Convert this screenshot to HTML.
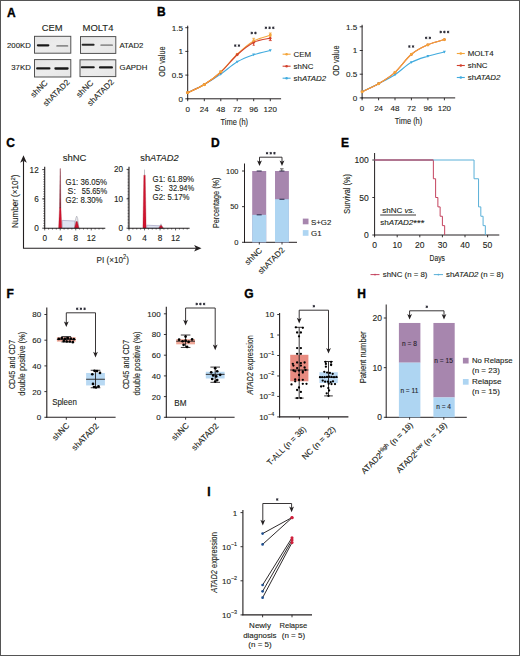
<!DOCTYPE html>
<html><head><meta charset="utf-8"><style>
html,body{margin:0;padding:0;background:#fff;}
#f{position:relative;width:520px;height:656px;overflow:hidden;background:#fff;}
svg{position:absolute;left:0;top:0;font-family:"Liberation Sans", sans-serif;}
text{stroke:#231f20;stroke-width:0.12px;}
</style></head><body><div id="f">
<svg width="520" height="656" viewBox="0 0 520 656">
<defs><linearGradient id="bg" x1="0" y1="0" x2="1" y2="1"><stop offset="0" stop-color="#e4e4e4"/><stop offset="0.5" stop-color="#ececec"/><stop offset="1" stop-color="#e6e6e6"/></linearGradient><filter id="bl" x="-20%" y="-100%" width="140%" height="300%"><feGaussianBlur stdDeviation="0.45"/></filter></defs>
<rect x="0" y="0" width="520" height="656" fill="#fff"/>
<text x="6.9" y="16.6" font-size="12" fill="#000" font-weight="bold" style="stroke:#000;stroke-width:0.35px">A</text>
<text x="52.2" y="30.5" font-size="8.9" fill="#231f20" text-anchor="middle" textLength="20.8" lengthAdjust="spacingAndGlyphs">CEM</text>
<text x="98.0" y="30.5" font-size="8.9" fill="#231f20" text-anchor="middle" textLength="30.8" lengthAdjust="spacingAndGlyphs">MOLT4</text>
<rect x="34.5" y="36.3" width="36.3" height="16.900000000000006" fill="url(#bg)" stroke="#4a4a4a" stroke-width="0.95"/>
<rect x="36.8" y="44.15" width="12.600000000000001" height="2.3" rx="1.15" fill="#111" opacity="0.95" filter="url(#bl)"/>
<rect x="56.2" y="44.949999999999996" width="12.099999999999994" height="1.9" rx="0.95" fill="#111" opacity="0.42" filter="url(#bl)"/>
<rect x="34.5" y="59.6" width="36.3" height="17.4" fill="url(#bg)" stroke="#4a4a4a" stroke-width="0.95"/>
<rect x="36.1" y="67.30000000000001" width="14.399999999999999" height="2.2" rx="1.1" fill="#111" opacity="0.95" filter="url(#bl)"/>
<rect x="54.3" y="67.35" width="14.400000000000006" height="2.3" rx="1.15" fill="#111" opacity="0.95" filter="url(#bl)"/>
<rect x="80.5" y="36.6" width="35.3" height="16.799999999999997" fill="url(#bg)" stroke="#4a4a4a" stroke-width="0.95"/>
<rect x="81.6" y="43.8" width="13.0" height="2.0" rx="1.0" fill="#111" opacity="0.88" filter="url(#bl)"/>
<rect x="100.3" y="44.300000000000004" width="12.700000000000003" height="1.8" rx="0.9" fill="#111" opacity="0.4" filter="url(#bl)"/>
<rect x="80.0" y="59.8" width="35.8" height="16.799999999999997" fill="url(#bg)" stroke="#4a4a4a" stroke-width="0.95"/>
<rect x="80.8" y="66.2" width="14.0" height="2.0" rx="1.0" fill="#111" opacity="0.95" filter="url(#bl)"/>
<rect x="98.9" y="66.30000000000001" width="14.099999999999994" height="2.2" rx="1.1" fill="#111" opacity="0.95" filter="url(#bl)"/>
<text x="30.8" y="47.6" font-size="7.8" fill="#231f20" text-anchor="end">200KD</text>
<text x="30.8" y="70.3" font-size="7.8" fill="#231f20" text-anchor="end">37KD</text>
<text x="119.4" y="47.6" font-size="7.8" fill="#231f20">ATAD2</text>
<text x="119.6" y="70.3" font-size="7.8" fill="#231f20">GAPDH</text>
<text transform="translate(48.3,83.5) rotate(-45)" font-size="8.2" fill="#231f20" text-anchor="end">shNC</text>
<text transform="translate(70.2,82.8) rotate(-45)" font-size="8.2" fill="#231f20" text-anchor="end">shATAD2</text>
<text transform="translate(93.9,83.5) rotate(-45)" font-size="8.2" fill="#231f20" text-anchor="end">shNC</text>
<text transform="translate(114.5,82.5) rotate(-45)" font-size="8.2" fill="#231f20" text-anchor="end">shATAD2</text>
<text x="156.9" y="16.4" font-size="12" fill="#000" font-weight="bold" style="stroke:#000;stroke-width:0.35px">B</text>
<line x1="187.7" y1="25.700000000000003" x2="187.7" y2="99.3" stroke="#231f20" stroke-width="1" />
<line x1="187.2" y1="98.8" x2="281.1" y2="98.8" stroke="#231f20" stroke-width="1" />
<line x1="185.29999999999998" y1="98.8" x2="188.29999999999998" y2="98.8" stroke="#231f20" stroke-width="0.9" />
<text x="182.89999999999998" y="101.7" font-size="8.1" fill="#231f20" text-anchor="end">0</text>
<line x1="185.29999999999998" y1="75.1" x2="188.29999999999998" y2="75.1" stroke="#231f20" stroke-width="0.9" />
<text x="182.89999999999998" y="78.0" font-size="8.1" fill="#231f20" text-anchor="end">0.5</text>
<line x1="185.29999999999998" y1="51.4" x2="188.29999999999998" y2="51.4" stroke="#231f20" stroke-width="0.9" />
<text x="182.89999999999998" y="54.3" font-size="8.1" fill="#231f20" text-anchor="end">1</text>
<line x1="185.29999999999998" y1="27.700000000000003" x2="188.29999999999998" y2="27.700000000000003" stroke="#231f20" stroke-width="0.9" />
<text x="182.89999999999998" y="30.6" font-size="8.1" fill="#231f20" text-anchor="end">1.5</text>
<line x1="187.7" y1="98.8" x2="187.7" y2="101.2" stroke="#231f20" stroke-width="0.9" />
<text x="187.7" y="111.8" font-size="8.0" fill="#231f20" text-anchor="middle">0</text>
<line x1="204.3" y1="98.8" x2="204.3" y2="101.2" stroke="#231f20" stroke-width="0.9" />
<text x="204.3" y="111.8" font-size="8.0" fill="#231f20" text-anchor="middle">24</text>
<line x1="220.8" y1="98.8" x2="220.8" y2="101.2" stroke="#231f20" stroke-width="0.9" />
<text x="220.8" y="111.8" font-size="8.0" fill="#231f20" text-anchor="middle">48</text>
<line x1="237.2" y1="98.8" x2="237.2" y2="101.2" stroke="#231f20" stroke-width="0.9" />
<text x="237.2" y="111.8" font-size="8.0" fill="#231f20" text-anchor="middle">72</text>
<line x1="253.7" y1="98.8" x2="253.7" y2="101.2" stroke="#231f20" stroke-width="0.9" />
<text x="253.7" y="111.8" font-size="8.0" fill="#231f20" text-anchor="middle">96</text>
<line x1="270.3" y1="98.8" x2="270.3" y2="101.2" stroke="#231f20" stroke-width="0.9" />
<text x="270.3" y="111.8" font-size="8.0" fill="#231f20" text-anchor="middle">120</text>
<text x="234.3" y="124.5" font-size="9.2" fill="#231f20" text-anchor="middle" textLength="27.5" lengthAdjust="spacingAndGlyphs">Time (h)</text>
<text transform="translate(165.4,61.599999999999994) rotate(-90)" font-size="9.4" fill="#231f20" text-anchor="middle" textLength="30.3" lengthAdjust="spacingAndGlyphs">OD value</text>
<path d="M187.70,92.64 C190.47,91.29 198.78,87.66 204.30,84.58 C209.82,81.50 215.32,77.94 220.80,74.15 C226.28,70.36 231.72,65.07 237.20,61.83 C242.68,58.59 248.18,56.61 253.70,54.72 C259.22,52.82 267.53,51.16 270.30,50.45" fill="none" stroke="#41abde" stroke-width="1.1" />
<path d="M187.7,94.13799999999999 L189.2,91.43799999999999 L186.2,91.43799999999999 Z" fill="#41abde"/>
<path d="M204.3,86.08 L205.8,83.38 L202.8,83.38 Z" fill="#41abde"/>
<path d="M220.8,75.652 L222.3,72.952 L219.3,72.952 Z" fill="#41abde"/>
<path d="M237.2,63.327999999999996 L238.7,60.62799999999999 L235.7,60.62799999999999 Z" fill="#41abde"/>
<path d="M253.7,56.217999999999996 L255.2,53.517999999999994 L252.2,53.517999999999994 Z" fill="#41abde"/>
<path d="M270.3,51.952 L271.8,49.251999999999995 L268.8,49.251999999999995 Z" fill="#41abde"/>
<path d="M187.70,92.64 C190.47,91.29 198.78,88.06 204.30,84.58 C209.82,81.10 215.32,76.84 220.80,71.78 C226.28,66.73 231.72,59.38 237.20,54.24 C242.68,49.11 248.18,44.13 253.70,40.97 C259.22,37.81 267.53,36.23 270.30,35.28" fill="none" stroke="#f4a53a" stroke-width="1.1" />
<rect x="186.39999999999998" y="91.338" width="2.6" height="2.6" fill="#f4a53a" stroke="none" stroke-width="0" />
<rect x="203.0" y="83.28" width="2.6" height="2.6" fill="#f4a53a" stroke="none" stroke-width="0" />
<rect x="219.5" y="70.482" width="2.6" height="2.6" fill="#f4a53a" stroke="none" stroke-width="0" />
<rect x="235.89999999999998" y="52.944" width="2.6" height="2.6" fill="#f4a53a" stroke="none" stroke-width="0" />
<rect x="252.39999999999998" y="39.672000000000004" width="2.6" height="2.6" fill="#f4a53a" stroke="none" stroke-width="0" />
<rect x="269.0" y="33.983999999999995" width="2.6" height="2.6" fill="#f4a53a" stroke="none" stroke-width="0" />
<path d="M187.70,92.64 C190.47,91.29 198.78,87.98 204.30,84.58 C209.82,81.18 215.32,77.23 220.80,72.26 C226.28,67.28 231.72,59.69 237.20,54.72 C242.68,49.74 248.18,45.16 253.70,42.39 C259.22,39.63 267.53,38.84 270.30,38.13" fill="none" stroke="#d2402c" stroke-width="1.1" />
<path d="M187.7,91.038 L189.29999999999998,92.63799999999999 L187.7,94.23799999999999 L186.1,92.63799999999999 Z" fill="#d2402c"/>
<path d="M204.3,82.98 L205.9,84.58 L204.3,86.17999999999999 L202.70000000000002,84.58 Z" fill="#d2402c"/>
<path d="M220.8,70.656 L222.4,72.256 L220.8,73.856 L219.20000000000002,72.256 Z" fill="#d2402c"/>
<path d="M237.2,53.117999999999995 L238.79999999999998,54.717999999999996 L237.2,56.318 L235.6,54.717999999999996 Z" fill="#d2402c"/>
<path d="M253.7,40.794 L255.29999999999998,42.394 L253.7,43.994 L252.1,42.394 Z" fill="#d2402c"/>
<path d="M270.3,36.528 L271.90000000000003,38.128 L270.3,39.728 L268.7,38.128 Z" fill="#d2402c"/>
<path d="M187.70,92.64 C190.47,91.29 198.78,88.06 204.30,84.58 C209.82,81.10 215.32,76.84 220.80,71.78" fill="none" stroke="#f4a53a" stroke-width="1.1" />
<rect x="186.39999999999998" y="91.338" width="2.6" height="2.6" fill="#f4a53a" stroke="none" stroke-width="0" />
<rect x="203.0" y="83.28" width="2.6" height="2.6" fill="#f4a53a" stroke="none" stroke-width="0" />
<rect x="219.5" y="70.482" width="2.6" height="2.6" fill="#f4a53a" stroke="none" stroke-width="0" />
<line x1="235.25" y1="44.34" x2="235.25" y2="46.87" stroke="#2a2a35" stroke-width="0.95"/>
<line x1="234.15" y1="44.97" x2="236.35" y2="46.23" stroke="#2a2a35" stroke-width="0.95"/>
<line x1="234.15" y1="46.23" x2="236.35" y2="44.97" stroke="#2a2a35" stroke-width="0.95"/>
<line x1="238.95" y1="44.34" x2="238.95" y2="46.87" stroke="#2a2a35" stroke-width="0.95"/>
<line x1="237.85" y1="44.97" x2="240.05" y2="46.23" stroke="#2a2a35" stroke-width="0.95"/>
<line x1="237.85" y1="46.23" x2="240.05" y2="44.97" stroke="#2a2a35" stroke-width="0.95"/>
<line x1="251.75" y1="31.73" x2="251.75" y2="34.27" stroke="#2a2a35" stroke-width="0.95"/>
<line x1="250.65" y1="32.37" x2="252.85" y2="33.63" stroke="#2a2a35" stroke-width="0.95"/>
<line x1="250.65" y1="33.63" x2="252.85" y2="32.37" stroke="#2a2a35" stroke-width="0.95"/>
<line x1="255.45" y1="31.73" x2="255.45" y2="34.27" stroke="#2a2a35" stroke-width="0.95"/>
<line x1="254.35" y1="32.37" x2="256.55" y2="33.63" stroke="#2a2a35" stroke-width="0.95"/>
<line x1="254.35" y1="33.63" x2="256.55" y2="32.37" stroke="#2a2a35" stroke-width="0.95"/>
<line x1="265.90" y1="26.54" x2="265.90" y2="29.07" stroke="#2a2a35" stroke-width="0.95"/>
<line x1="264.80" y1="27.17" x2="267.00" y2="28.43" stroke="#2a2a35" stroke-width="0.95"/>
<line x1="264.80" y1="28.43" x2="267.00" y2="27.17" stroke="#2a2a35" stroke-width="0.95"/>
<line x1="269.60" y1="26.54" x2="269.60" y2="29.07" stroke="#2a2a35" stroke-width="0.95"/>
<line x1="268.50" y1="27.17" x2="270.70" y2="28.43" stroke="#2a2a35" stroke-width="0.95"/>
<line x1="268.50" y1="28.43" x2="270.70" y2="27.17" stroke="#2a2a35" stroke-width="0.95"/>
<line x1="273.30" y1="26.54" x2="273.30" y2="29.07" stroke="#2a2a35" stroke-width="0.95"/>
<line x1="272.20" y1="27.17" x2="274.40" y2="28.43" stroke="#2a2a35" stroke-width="0.95"/>
<line x1="272.20" y1="28.43" x2="274.40" y2="27.17" stroke="#2a2a35" stroke-width="0.95"/>
<line x1="282.6" y1="54.2" x2="290.6" y2="54.2" stroke="#f4a53a" stroke-width="1.1" />
<circle cx="286.60" cy="54.20" r="1.3" fill="#f4a53a"/>
<text x="293.6" y="57.0" font-size="7.9" fill="#231f20">CEM</text>
<line x1="282.6" y1="66.2" x2="290.6" y2="66.2" stroke="#d2402c" stroke-width="1.1" />
<circle cx="286.60" cy="66.20" r="1.3" fill="#d2402c"/>
<text x="293.6" y="69.0" font-size="7.9" fill="#231f20">shNC</text>
<line x1="282.6" y1="78.2" x2="290.6" y2="78.2" stroke="#41abde" stroke-width="1.1" />
<circle cx="286.60" cy="78.20" r="1.3" fill="#41abde"/>
<text x="293.6" y="81.0" font-size="7.9" fill="#231f20">sh<tspan font-style="italic">ATAD2</tspan></text>
<line x1="270.3" y1="33.0" x2="270.3" y2="37.0" stroke="#f4a53a" stroke-width="1.3" />
<line x1="268.8" y1="33.0" x2="271.8" y2="33.0" stroke="#f4a53a" stroke-width="0.8" />
<line x1="270.3" y1="37.0" x2="270.3" y2="40.6" stroke="#d2402c" stroke-width="1.3" />
<line x1="268.8" y1="40.6" x2="271.8" y2="40.6" stroke="#d2402c" stroke-width="0.8" />
<line x1="253.7" y1="38.3" x2="253.7" y2="42.0" stroke="#f4a53a" stroke-width="1.1" />
<line x1="252.3" y1="38.3" x2="255.1" y2="38.3" stroke="#f4a53a" stroke-width="0.8" />
<line x1="253.7" y1="42.0" x2="253.7" y2="45.3" stroke="#d2402c" stroke-width="1.0" />
<line x1="252.6" y1="45.3" x2="254.8" y2="45.3" stroke="#d2402c" stroke-width="0.8" />
<line x1="362.1" y1="24.80000000000001" x2="362.1" y2="98.4" stroke="#231f20" stroke-width="1" />
<line x1="361.6" y1="97.9" x2="455.2" y2="97.9" stroke="#231f20" stroke-width="1" />
<line x1="359.70000000000005" y1="97.9" x2="362.70000000000005" y2="97.9" stroke="#231f20" stroke-width="0.9" />
<text x="357.3" y="100.80000000000001" font-size="8.1" fill="#231f20" text-anchor="end">0</text>
<line x1="359.70000000000005" y1="74.2" x2="362.70000000000005" y2="74.2" stroke="#231f20" stroke-width="0.9" />
<text x="357.3" y="77.10000000000001" font-size="8.1" fill="#231f20" text-anchor="end">0.5</text>
<line x1="359.70000000000005" y1="50.50000000000001" x2="362.70000000000005" y2="50.50000000000001" stroke="#231f20" stroke-width="0.9" />
<text x="357.3" y="53.400000000000006" font-size="8.1" fill="#231f20" text-anchor="end">1</text>
<line x1="359.70000000000005" y1="26.80000000000001" x2="362.70000000000005" y2="26.80000000000001" stroke="#231f20" stroke-width="0.9" />
<text x="357.3" y="29.70000000000001" font-size="8.1" fill="#231f20" text-anchor="end">1.5</text>
<line x1="362.1" y1="97.9" x2="362.1" y2="100.30000000000001" stroke="#231f20" stroke-width="0.9" />
<text x="362.1" y="110.9" font-size="8.0" fill="#231f20" text-anchor="middle">0</text>
<line x1="378.6" y1="97.9" x2="378.6" y2="100.30000000000001" stroke="#231f20" stroke-width="0.9" />
<text x="378.6" y="110.9" font-size="8.0" fill="#231f20" text-anchor="middle">24</text>
<line x1="395.0" y1="97.9" x2="395.0" y2="100.30000000000001" stroke="#231f20" stroke-width="0.9" />
<text x="395.0" y="110.9" font-size="8.0" fill="#231f20" text-anchor="middle">48</text>
<line x1="411.4" y1="97.9" x2="411.4" y2="100.30000000000001" stroke="#231f20" stroke-width="0.9" />
<text x="411.4" y="110.9" font-size="8.0" fill="#231f20" text-anchor="middle">72</text>
<line x1="427.9" y1="97.9" x2="427.9" y2="100.30000000000001" stroke="#231f20" stroke-width="0.9" />
<text x="427.9" y="110.9" font-size="8.0" fill="#231f20" text-anchor="middle">96</text>
<line x1="444.4" y1="97.9" x2="444.4" y2="100.30000000000001" stroke="#231f20" stroke-width="0.9" />
<text x="444.4" y="110.9" font-size="8.0" fill="#231f20" text-anchor="middle">120</text>
<text x="408.5" y="123.60000000000001" font-size="9.2" fill="#231f20" text-anchor="middle" textLength="27.5" lengthAdjust="spacingAndGlyphs">Time (h)</text>
<text transform="translate(339.2,60.7) rotate(-90)" font-size="9.4" fill="#231f20" text-anchor="middle" textLength="30.3" lengthAdjust="spacingAndGlyphs">OD value</text>
<path d="M362.10,91.74 C364.85,90.39 373.12,86.52 378.60,83.68 C384.08,80.84 389.53,78.23 395.00,74.67 C400.47,71.12 405.92,65.43 411.40,62.35 C416.88,59.27 422.40,57.93 427.90,56.19 C433.40,54.45 441.65,52.63 444.40,51.92" fill="none" stroke="#41abde" stroke-width="1.1" />
<path d="M362.1,93.238 L363.6,90.538 L360.6,90.538 Z" fill="#41abde"/>
<path d="M378.6,85.18 L380.1,82.48 L377.1,82.48 Z" fill="#41abde"/>
<path d="M395.0,76.174 L396.5,73.474 L393.5,73.474 Z" fill="#41abde"/>
<path d="M411.4,63.85000000000001 L412.9,61.150000000000006 L409.9,61.150000000000006 Z" fill="#41abde"/>
<path d="M427.9,57.68800000000001 L429.4,54.98800000000001 L426.4,54.98800000000001 Z" fill="#41abde"/>
<path d="M444.4,53.42200000000001 L445.9,50.72200000000001 L442.9,50.72200000000001 Z" fill="#41abde"/>
<path d="M362.10,91.74 C364.85,90.39 373.12,86.92 378.60,83.68 C384.08,80.44 389.53,77.20 395.00,72.30 C400.47,67.41 405.92,58.87 411.40,54.29 C416.88,49.71 422.40,47.26 427.90,44.81 C433.40,42.36 441.65,40.47 444.40,39.60" fill="none" stroke="#d2402c" stroke-width="1.1" />
<path d="M362.1,90.138 L363.70000000000005,91.738 L362.1,93.338 L360.5,91.738 Z" fill="#d2402c"/>
<path d="M378.6,82.08000000000001 L380.20000000000005,83.68 L378.6,85.28 L377.0,83.68 Z" fill="#d2402c"/>
<path d="M395.0,70.70400000000001 L396.6,72.304 L395.0,73.904 L393.4,72.304 Z" fill="#d2402c"/>
<path d="M411.4,52.692 L413.0,54.292 L411.4,55.892 L409.79999999999995,54.292 Z" fill="#d2402c"/>
<path d="M427.9,43.212 L429.5,44.812000000000005 L427.9,46.412000000000006 L426.29999999999995,44.812000000000005 Z" fill="#d2402c"/>
<path d="M444.4,37.998000000000005 L446.0,39.598000000000006 L444.4,41.19800000000001 L442.79999999999995,39.598000000000006 Z" fill="#d2402c"/>
<path d="M362.10,91.74 C364.85,90.39 373.12,86.92 378.60,83.68 C384.08,80.44 389.53,77.20 395.00,72.30 C400.47,67.41 405.92,58.87 411.40,54.29 C416.88,49.71 422.40,47.26 427.90,44.81 C433.40,42.36 441.65,40.47 444.40,39.60" fill="none" stroke="#f4a53a" stroke-width="1.1" />
<rect x="360.8" y="90.438" width="2.6" height="2.6" fill="#f4a53a" stroke="none" stroke-width="0" />
<rect x="377.3" y="82.38000000000001" width="2.6" height="2.6" fill="#f4a53a" stroke="none" stroke-width="0" />
<rect x="393.7" y="71.004" width="2.6" height="2.6" fill="#f4a53a" stroke="none" stroke-width="0" />
<rect x="410.09999999999997" y="52.992000000000004" width="2.6" height="2.6" fill="#f4a53a" stroke="none" stroke-width="0" />
<rect x="426.59999999999997" y="43.51200000000001" width="2.6" height="2.6" fill="#f4a53a" stroke="none" stroke-width="0" />
<rect x="443.09999999999997" y="38.29800000000001" width="2.6" height="2.6" fill="#f4a53a" stroke="none" stroke-width="0" />
<line x1="409.35" y1="45.23" x2="409.35" y2="47.77" stroke="#2a2a35" stroke-width="0.95"/>
<line x1="408.25" y1="45.87" x2="410.45" y2="47.13" stroke="#2a2a35" stroke-width="0.95"/>
<line x1="408.25" y1="47.13" x2="410.45" y2="45.87" stroke="#2a2a35" stroke-width="0.95"/>
<line x1="413.05" y1="45.23" x2="413.05" y2="47.77" stroke="#2a2a35" stroke-width="0.95"/>
<line x1="411.95" y1="45.87" x2="414.15" y2="47.13" stroke="#2a2a35" stroke-width="0.95"/>
<line x1="411.95" y1="47.13" x2="414.15" y2="45.87" stroke="#2a2a35" stroke-width="0.95"/>
<line x1="426.15" y1="36.63" x2="426.15" y2="39.16" stroke="#2a2a35" stroke-width="0.95"/>
<line x1="425.05" y1="37.27" x2="427.25" y2="38.53" stroke="#2a2a35" stroke-width="0.95"/>
<line x1="425.05" y1="38.53" x2="427.25" y2="37.27" stroke="#2a2a35" stroke-width="0.95"/>
<line x1="429.85" y1="36.63" x2="429.85" y2="39.16" stroke="#2a2a35" stroke-width="0.95"/>
<line x1="428.75" y1="37.27" x2="430.95" y2="38.53" stroke="#2a2a35" stroke-width="0.95"/>
<line x1="428.75" y1="38.53" x2="430.95" y2="37.27" stroke="#2a2a35" stroke-width="0.95"/>
<line x1="440.70" y1="30.73" x2="440.70" y2="33.27" stroke="#2a2a35" stroke-width="0.95"/>
<line x1="439.60" y1="31.37" x2="441.80" y2="32.63" stroke="#2a2a35" stroke-width="0.95"/>
<line x1="439.60" y1="32.63" x2="441.80" y2="31.37" stroke="#2a2a35" stroke-width="0.95"/>
<line x1="444.40" y1="30.73" x2="444.40" y2="33.27" stroke="#2a2a35" stroke-width="0.95"/>
<line x1="443.30" y1="31.37" x2="445.50" y2="32.63" stroke="#2a2a35" stroke-width="0.95"/>
<line x1="443.30" y1="32.63" x2="445.50" y2="31.37" stroke="#2a2a35" stroke-width="0.95"/>
<line x1="448.10" y1="30.73" x2="448.10" y2="33.27" stroke="#2a2a35" stroke-width="0.95"/>
<line x1="447.00" y1="31.37" x2="449.20" y2="32.63" stroke="#2a2a35" stroke-width="0.95"/>
<line x1="447.00" y1="32.63" x2="449.20" y2="31.37" stroke="#2a2a35" stroke-width="0.95"/>
<line x1="456.8" y1="53.5" x2="464.8" y2="53.5" stroke="#f4a53a" stroke-width="1.1" />
<circle cx="460.80" cy="53.50" r="1.3" fill="#f4a53a"/>
<text x="467.8" y="56.3" font-size="7.9" fill="#231f20">MOLT4</text>
<line x1="456.8" y1="65.5" x2="464.8" y2="65.5" stroke="#d2402c" stroke-width="1.1" />
<circle cx="460.80" cy="65.50" r="1.3" fill="#d2402c"/>
<text x="467.8" y="68.3" font-size="7.9" fill="#231f20">shNC</text>
<line x1="456.8" y1="77.5" x2="464.8" y2="77.5" stroke="#41abde" stroke-width="1.1" />
<circle cx="460.80" cy="77.50" r="1.3" fill="#41abde"/>
<text x="467.8" y="80.3" font-size="7.9" fill="#231f20">sh<tspan font-style="italic">ATAD2</tspan></text>
<text x="6.3" y="146.8" font-size="12" fill="#000" font-weight="bold" style="stroke:#000;stroke-width:0.35px">C</text>
<path d="M23.5,161 L23.5,248.2 L197,248.2" fill="none" stroke="#231f20" stroke-width="1.1" />
<path d="M23.50,155.30 L20.20,162.70 L23.50,160.85 L26.80,162.70 Z" fill="#231f20"/>
<path d="M201.50,248.20 L194.10,244.90 L195.95,248.20 L194.10,251.50 Z" fill="#231f20"/>
<text transform="translate(18.3,201.2) rotate(-90)" font-size="8.6" fill="#231f20" text-anchor="middle" textLength="53.5" lengthAdjust="spacingAndGlyphs">Number (×10<tspan font-size="6.2" dy="-3.4">2</tspan><tspan dy="3.4">)</tspan></text>
<text x="112.8" y="262.8" font-size="9.2" fill="#231f20" text-anchor="middle" textLength="32.4" lengthAdjust="spacingAndGlyphs">PI (×10<tspan font-size="6.4" dy="-3.5">2</tspan><tspan dy="3.5">)</tspan></text>
<path d="M62.2,228.2 L62.2,220.4 L75.0,221.0 L75.0,228.2 Z" fill="#dfe3f1" stroke="#a3a0c0" stroke-width="0.7" />
<path d="M59.519999999999996,208.0 L60.07,168.6 L60.37,168.6 L60.92,208.0 Z" fill="#7d1f2e" stroke="#7d1f2e" stroke-width="0.3" />
<path d="M58.62,228.2 L59.519999999999996,208.0 L60.92,208.0 L61.82,228.2 Z" fill="#d0132f" stroke="#a0101f" stroke-width="0.3" />
<path d="M74.4,228.2 L75.7,218.5 L76.7,216.0 L77.7,218.5 L79.0,228.2 Z" fill="#e4e4ea" stroke="#a8a8b0" stroke-width="0.6" />
<path d="M74.5,228.2 L76.10000000000001,221.6 L77.3,221.6 L78.9,228.2 Z" fill="#d0132f" stroke="#7d1f2e" stroke-width="0.3" />
<line x1="44.7" y1="166.7" x2="44.7" y2="228.7" stroke="#231f20" stroke-width="1.1" />
<line x1="44.2" y1="228.2" x2="105.3" y2="228.2" stroke="#231f20" stroke-width="1.1" />
<line x1="43.300000000000004" y1="225.75833333333333" x2="44.7" y2="225.75833333333333" stroke="#231f20" stroke-width="0.6" />
<line x1="43.300000000000004" y1="223.31666666666666" x2="44.7" y2="223.31666666666666" stroke="#231f20" stroke-width="0.6" />
<line x1="43.300000000000004" y1="220.875" x2="44.7" y2="220.875" stroke="#231f20" stroke-width="0.6" />
<line x1="43.300000000000004" y1="218.43333333333334" x2="44.7" y2="218.43333333333334" stroke="#231f20" stroke-width="0.6" />
<line x1="43.300000000000004" y1="215.99166666666665" x2="44.7" y2="215.99166666666665" stroke="#231f20" stroke-width="0.6" />
<line x1="43.300000000000004" y1="213.54999999999998" x2="44.7" y2="213.54999999999998" stroke="#231f20" stroke-width="0.6" />
<line x1="43.300000000000004" y1="211.10833333333332" x2="44.7" y2="211.10833333333332" stroke="#231f20" stroke-width="0.6" />
<line x1="43.300000000000004" y1="208.66666666666666" x2="44.7" y2="208.66666666666666" stroke="#231f20" stroke-width="0.6" />
<line x1="43.300000000000004" y1="206.225" x2="44.7" y2="206.225" stroke="#231f20" stroke-width="0.6" />
<line x1="43.300000000000004" y1="203.78333333333333" x2="44.7" y2="203.78333333333333" stroke="#231f20" stroke-width="0.6" />
<line x1="43.300000000000004" y1="201.34166666666667" x2="44.7" y2="201.34166666666667" stroke="#231f20" stroke-width="0.6" />
<line x1="43.300000000000004" y1="198.89999999999998" x2="44.7" y2="198.89999999999998" stroke="#231f20" stroke-width="0.6" />
<line x1="43.300000000000004" y1="196.45833333333331" x2="44.7" y2="196.45833333333331" stroke="#231f20" stroke-width="0.6" />
<line x1="43.300000000000004" y1="194.01666666666665" x2="44.7" y2="194.01666666666665" stroke="#231f20" stroke-width="0.6" />
<line x1="43.300000000000004" y1="191.575" x2="44.7" y2="191.575" stroke="#231f20" stroke-width="0.6" />
<line x1="43.300000000000004" y1="189.13333333333333" x2="44.7" y2="189.13333333333333" stroke="#231f20" stroke-width="0.6" />
<line x1="43.300000000000004" y1="186.69166666666666" x2="44.7" y2="186.69166666666666" stroke="#231f20" stroke-width="0.6" />
<line x1="43.300000000000004" y1="184.25" x2="44.7" y2="184.25" stroke="#231f20" stroke-width="0.6" />
<line x1="43.300000000000004" y1="181.80833333333334" x2="44.7" y2="181.80833333333334" stroke="#231f20" stroke-width="0.6" />
<line x1="43.300000000000004" y1="179.36666666666665" x2="44.7" y2="179.36666666666665" stroke="#231f20" stroke-width="0.6" />
<line x1="43.300000000000004" y1="176.92499999999998" x2="44.7" y2="176.92499999999998" stroke="#231f20" stroke-width="0.6" />
<line x1="43.300000000000004" y1="174.48333333333332" x2="44.7" y2="174.48333333333332" stroke="#231f20" stroke-width="0.6" />
<line x1="43.300000000000004" y1="172.04166666666666" x2="44.7" y2="172.04166666666666" stroke="#231f20" stroke-width="0.6" />
<line x1="44.7" y1="228.2" x2="44.7" y2="230.39999999999998" stroke="#231f20" stroke-width="0.7" />
<line x1="48.580000000000005" y1="228.2" x2="48.580000000000005" y2="229.5" stroke="#231f20" stroke-width="0.7" />
<line x1="52.46" y1="228.2" x2="52.46" y2="229.5" stroke="#231f20" stroke-width="0.7" />
<line x1="56.34" y1="228.2" x2="56.34" y2="229.5" stroke="#231f20" stroke-width="0.7" />
<line x1="60.22" y1="228.2" x2="60.22" y2="230.39999999999998" stroke="#231f20" stroke-width="0.7" />
<line x1="64.1" y1="228.2" x2="64.1" y2="229.5" stroke="#231f20" stroke-width="0.7" />
<line x1="67.98" y1="228.2" x2="67.98" y2="229.5" stroke="#231f20" stroke-width="0.7" />
<line x1="71.86" y1="228.2" x2="71.86" y2="229.5" stroke="#231f20" stroke-width="0.7" />
<line x1="75.74000000000001" y1="228.2" x2="75.74000000000001" y2="230.39999999999998" stroke="#231f20" stroke-width="0.7" />
<line x1="79.62" y1="228.2" x2="79.62" y2="229.5" stroke="#231f20" stroke-width="0.7" />
<line x1="83.5" y1="228.2" x2="83.5" y2="229.5" stroke="#231f20" stroke-width="0.7" />
<line x1="87.38" y1="228.2" x2="87.38" y2="229.5" stroke="#231f20" stroke-width="0.7" />
<line x1="91.26" y1="228.2" x2="91.26" y2="230.39999999999998" stroke="#231f20" stroke-width="0.7" />
<line x1="95.14" y1="228.2" x2="95.14" y2="229.5" stroke="#231f20" stroke-width="0.7" />
<line x1="99.02000000000001" y1="228.2" x2="99.02000000000001" y2="229.5" stroke="#231f20" stroke-width="0.7" />
<line x1="102.9" y1="228.2" x2="102.9" y2="229.5" stroke="#231f20" stroke-width="0.7" />
<line x1="42.300000000000004" y1="169.6" x2="44.7" y2="169.6" stroke="#231f20" stroke-width="0.9" />
<text x="38.7" y="172.5" font-size="8.2" fill="#231f20" text-anchor="end">12</text>
<line x1="42.300000000000004" y1="198.9" x2="44.7" y2="198.9" stroke="#231f20" stroke-width="0.9" />
<text x="38.7" y="201.8" font-size="8.2" fill="#231f20" text-anchor="end">6</text>
<line x1="42.300000000000004" y1="228.2" x2="44.7" y2="228.2" stroke="#231f20" stroke-width="0.9" />
<text x="38.7" y="231.1" font-size="8.2" fill="#231f20" text-anchor="end">0</text>
<text x="44.7" y="240.5" font-size="8.2" fill="#231f20" text-anchor="middle">0</text>
<text x="60.22" y="240.5" font-size="8.2" fill="#231f20" text-anchor="middle">4</text>
<text x="75.74000000000001" y="240.5" font-size="8.2" fill="#231f20" text-anchor="middle">8</text>
<text x="91.26" y="240.5" font-size="8.2" fill="#231f20" text-anchor="middle">12</text>
<text x="65.6" y="184.6" font-size="8.7" fill="#231f20" textLength="41.5" lengthAdjust="spacingAndGlyphs">G1: 36.05%</text>
<text x="67.6" y="193.6" font-size="8.7" fill="#231f20">S:</text>
<text x="107.19999999999999" y="193.6" font-size="8.7" fill="#231f20" text-anchor="end" textLength="25.4" lengthAdjust="spacingAndGlyphs">55.65%</text>
<text x="65.6" y="203.0" font-size="8.7" fill="#231f20" textLength="37.0" lengthAdjust="spacingAndGlyphs">G2: 8.30%</text>
<path d="M146.8,228.2 L146.8,225.2 L160.0,225.79999999999998 L160.0,228.2 Z" fill="#dfe3f1" stroke="#a3a0c0" stroke-width="0.7" />
<line x1="144.52" y1="169.6" x2="144.52" y2="175.2" stroke="#b5b5bb" stroke-width="0.9" />
<path d="M142.92000000000002,228.2 L143.82000000000002,175.2 L145.22,175.2 L146.12,228.2 Z" fill="#d0132f" stroke="#a0101f" stroke-width="0.3" />
<path d="M158.7,228.2 L160.0,226.3 L161.0,223.8 L162.0,226.3 L163.3,228.2 Z" fill="#e4e4ea" stroke="#a8a8b0" stroke-width="0.6" />
<path d="M158.8,228.2 L160.4,225.5 L161.6,225.5 L163.2,228.2 Z" fill="#d0132f" stroke="#7d1f2e" stroke-width="0.3" />
<line x1="129.0" y1="166.7" x2="129.0" y2="228.7" stroke="#231f20" stroke-width="1.1" />
<line x1="128.5" y1="228.2" x2="189.6" y2="228.2" stroke="#231f20" stroke-width="1.1" />
<line x1="127.6" y1="226.73" x2="129.0" y2="226.73" stroke="#231f20" stroke-width="0.6" />
<line x1="127.6" y1="225.26" x2="129.0" y2="225.26" stroke="#231f20" stroke-width="0.6" />
<line x1="127.6" y1="223.79" x2="129.0" y2="223.79" stroke="#231f20" stroke-width="0.6" />
<line x1="127.6" y1="222.32" x2="129.0" y2="222.32" stroke="#231f20" stroke-width="0.6" />
<line x1="127.6" y1="220.85" x2="129.0" y2="220.85" stroke="#231f20" stroke-width="0.6" />
<line x1="127.6" y1="219.38" x2="129.0" y2="219.38" stroke="#231f20" stroke-width="0.6" />
<line x1="127.6" y1="217.91" x2="129.0" y2="217.91" stroke="#231f20" stroke-width="0.6" />
<line x1="127.6" y1="216.44" x2="129.0" y2="216.44" stroke="#231f20" stroke-width="0.6" />
<line x1="127.6" y1="214.97" x2="129.0" y2="214.97" stroke="#231f20" stroke-width="0.6" />
<line x1="127.6" y1="213.5" x2="129.0" y2="213.5" stroke="#231f20" stroke-width="0.6" />
<line x1="127.6" y1="212.03" x2="129.0" y2="212.03" stroke="#231f20" stroke-width="0.6" />
<line x1="127.6" y1="210.56" x2="129.0" y2="210.56" stroke="#231f20" stroke-width="0.6" />
<line x1="127.6" y1="209.09" x2="129.0" y2="209.09" stroke="#231f20" stroke-width="0.6" />
<line x1="127.6" y1="207.62" x2="129.0" y2="207.62" stroke="#231f20" stroke-width="0.6" />
<line x1="127.6" y1="206.15" x2="129.0" y2="206.15" stroke="#231f20" stroke-width="0.6" />
<line x1="127.6" y1="204.68" x2="129.0" y2="204.68" stroke="#231f20" stroke-width="0.6" />
<line x1="127.6" y1="203.21" x2="129.0" y2="203.21" stroke="#231f20" stroke-width="0.6" />
<line x1="127.6" y1="201.74" x2="129.0" y2="201.74" stroke="#231f20" stroke-width="0.6" />
<line x1="127.6" y1="200.27" x2="129.0" y2="200.27" stroke="#231f20" stroke-width="0.6" />
<line x1="127.6" y1="198.8" x2="129.0" y2="198.8" stroke="#231f20" stroke-width="0.6" />
<line x1="127.6" y1="197.32999999999998" x2="129.0" y2="197.32999999999998" stroke="#231f20" stroke-width="0.6" />
<line x1="127.6" y1="195.86" x2="129.0" y2="195.86" stroke="#231f20" stroke-width="0.6" />
<line x1="127.6" y1="194.39" x2="129.0" y2="194.39" stroke="#231f20" stroke-width="0.6" />
<line x1="127.6" y1="192.92000000000002" x2="129.0" y2="192.92000000000002" stroke="#231f20" stroke-width="0.6" />
<line x1="127.6" y1="191.45" x2="129.0" y2="191.45" stroke="#231f20" stroke-width="0.6" />
<line x1="127.6" y1="189.98000000000002" x2="129.0" y2="189.98000000000002" stroke="#231f20" stroke-width="0.6" />
<line x1="127.6" y1="188.51" x2="129.0" y2="188.51" stroke="#231f20" stroke-width="0.6" />
<line x1="127.6" y1="187.04" x2="129.0" y2="187.04" stroke="#231f20" stroke-width="0.6" />
<line x1="127.6" y1="185.57" x2="129.0" y2="185.57" stroke="#231f20" stroke-width="0.6" />
<line x1="127.6" y1="184.1" x2="129.0" y2="184.1" stroke="#231f20" stroke-width="0.6" />
<line x1="127.6" y1="182.63" x2="129.0" y2="182.63" stroke="#231f20" stroke-width="0.6" />
<line x1="127.6" y1="181.16" x2="129.0" y2="181.16" stroke="#231f20" stroke-width="0.6" />
<line x1="127.6" y1="179.69" x2="129.0" y2="179.69" stroke="#231f20" stroke-width="0.6" />
<line x1="127.6" y1="178.22" x2="129.0" y2="178.22" stroke="#231f20" stroke-width="0.6" />
<line x1="127.6" y1="176.75" x2="129.0" y2="176.75" stroke="#231f20" stroke-width="0.6" />
<line x1="127.6" y1="175.28" x2="129.0" y2="175.28" stroke="#231f20" stroke-width="0.6" />
<line x1="127.6" y1="173.81" x2="129.0" y2="173.81" stroke="#231f20" stroke-width="0.6" />
<line x1="127.6" y1="172.34" x2="129.0" y2="172.34" stroke="#231f20" stroke-width="0.6" />
<line x1="127.6" y1="170.87" x2="129.0" y2="170.87" stroke="#231f20" stroke-width="0.6" />
<line x1="129.0" y1="228.2" x2="129.0" y2="230.39999999999998" stroke="#231f20" stroke-width="0.7" />
<line x1="132.88" y1="228.2" x2="132.88" y2="229.5" stroke="#231f20" stroke-width="0.7" />
<line x1="136.76" y1="228.2" x2="136.76" y2="229.5" stroke="#231f20" stroke-width="0.7" />
<line x1="140.64" y1="228.2" x2="140.64" y2="229.5" stroke="#231f20" stroke-width="0.7" />
<line x1="144.52" y1="228.2" x2="144.52" y2="230.39999999999998" stroke="#231f20" stroke-width="0.7" />
<line x1="148.4" y1="228.2" x2="148.4" y2="229.5" stroke="#231f20" stroke-width="0.7" />
<line x1="152.28" y1="228.2" x2="152.28" y2="229.5" stroke="#231f20" stroke-width="0.7" />
<line x1="156.16" y1="228.2" x2="156.16" y2="229.5" stroke="#231f20" stroke-width="0.7" />
<line x1="160.04" y1="228.2" x2="160.04" y2="230.39999999999998" stroke="#231f20" stroke-width="0.7" />
<line x1="163.92000000000002" y1="228.2" x2="163.92000000000002" y2="229.5" stroke="#231f20" stroke-width="0.7" />
<line x1="167.8" y1="228.2" x2="167.8" y2="229.5" stroke="#231f20" stroke-width="0.7" />
<line x1="171.68" y1="228.2" x2="171.68" y2="229.5" stroke="#231f20" stroke-width="0.7" />
<line x1="175.56" y1="228.2" x2="175.56" y2="230.39999999999998" stroke="#231f20" stroke-width="0.7" />
<line x1="179.44" y1="228.2" x2="179.44" y2="229.5" stroke="#231f20" stroke-width="0.7" />
<line x1="183.32" y1="228.2" x2="183.32" y2="229.5" stroke="#231f20" stroke-width="0.7" />
<line x1="187.2" y1="228.2" x2="187.2" y2="229.5" stroke="#231f20" stroke-width="0.7" />
<line x1="126.6" y1="169.4" x2="129.0" y2="169.4" stroke="#231f20" stroke-width="0.9" />
<text x="123.0" y="172.3" font-size="8.2" fill="#231f20" text-anchor="end">20</text>
<line x1="126.6" y1="198.8" x2="129.0" y2="198.8" stroke="#231f20" stroke-width="0.9" />
<text x="123.0" y="201.70000000000002" font-size="8.2" fill="#231f20" text-anchor="end">10</text>
<line x1="126.6" y1="228.2" x2="129.0" y2="228.2" stroke="#231f20" stroke-width="0.9" />
<text x="123.0" y="231.1" font-size="8.2" fill="#231f20" text-anchor="end">0</text>
<text x="129.0" y="240.5" font-size="8.2" fill="#231f20" text-anchor="middle">0</text>
<text x="144.52" y="240.5" font-size="8.2" fill="#231f20" text-anchor="middle">4</text>
<text x="160.04" y="240.5" font-size="8.2" fill="#231f20" text-anchor="middle">8</text>
<text x="175.56" y="240.5" font-size="8.2" fill="#231f20" text-anchor="middle">12</text>
<text x="152.6" y="181.5" font-size="8.7" fill="#231f20" textLength="41.5" lengthAdjust="spacingAndGlyphs">G1: 61.89%</text>
<text x="154.6" y="190.7" font-size="8.7" fill="#231f20">S:</text>
<text x="194.2" y="190.7" font-size="8.7" fill="#231f20" text-anchor="end" textLength="25.4" lengthAdjust="spacingAndGlyphs">32.94%</text>
<text x="152.6" y="200.1" font-size="8.7" fill="#231f20" textLength="37.0" lengthAdjust="spacingAndGlyphs">G2: 5.17%</text>
<text x="74.6" y="160.8" font-size="9.5" fill="#231f20" text-anchor="middle">shNC</text>
<text x="159.5" y="160.7" font-size="9.3" fill="#231f20" text-anchor="middle">sh<tspan font-style="italic">ATAD2</tspan></text>
<text x="211.0" y="146.8" font-size="12" fill="#000" font-weight="bold" style="stroke:#000;stroke-width:0.35px">D</text>
<line x1="244.5" y1="163.5" x2="244.5" y2="242.8" stroke="#231f20" stroke-width="1" />
<line x1="244.0" y1="242.3" x2="297" y2="242.3" stroke="#231f20" stroke-width="1" />
<line x1="242.0" y1="242.3" x2="244.5" y2="242.3" stroke="#231f20" stroke-width="0.9" />
<text x="238.4" y="245.10000000000002" font-size="8.0" fill="#231f20" text-anchor="end" textLength="4.2" lengthAdjust="spacingAndGlyphs">0</text>
<line x1="242.0" y1="206.65" x2="244.5" y2="206.65" stroke="#231f20" stroke-width="0.9" />
<text x="238.4" y="209.45000000000002" font-size="8.0" fill="#231f20" text-anchor="end" textLength="8.2" lengthAdjust="spacingAndGlyphs">50</text>
<line x1="242.0" y1="171.0" x2="244.5" y2="171.0" stroke="#231f20" stroke-width="0.9" />
<text x="238.4" y="173.8" font-size="8.0" fill="#231f20" text-anchor="end" textLength="12.3" lengthAdjust="spacingAndGlyphs">100</text>
<rect x="252.2" y="171.0" width="14.0" height="71.30000000000001" fill="#a786ae" stroke="none" stroke-width="0" />
<rect x="252.2" y="214.8495" width="14.0" height="27.4505" fill="#aed5f2" stroke="none" stroke-width="0" />
<line x1="256.7" y1="214.8495" x2="261.7" y2="214.8495" stroke="#1b1b3a" stroke-width="0.9" />
<line x1="256.7" y1="171.0" x2="261.7" y2="171.0" stroke="#1b1b3a" stroke-width="0.9" />
<rect x="275.0" y="171.0" width="13.899999999999977" height="71.30000000000001" fill="#a786ae" stroke="none" stroke-width="0" />
<rect x="275.0" y="199.2348" width="13.899999999999977" height="43.065200000000004" fill="#aed5f2" stroke="none" stroke-width="0" />
<line x1="279.45" y1="199.2348" x2="284.45" y2="199.2348" stroke="#1b1b3a" stroke-width="0.9" />
<line x1="279.45" y1="171.0" x2="284.45" y2="171.0" stroke="#1b1b3a" stroke-width="0.9" />
<line x1="281.8" y1="168.8" x2="281.8" y2="171" stroke="#231f20" stroke-width="0.7" />
<line x1="280.0" y1="168.8" x2="283.6" y2="168.8" stroke="#231f20" stroke-width="0.7" />
<path d="M259.5,162.6 L259.5,157.2 L282.0,157.2 L282.0,162.6" fill="none" stroke="#231f20" stroke-width="0.9" />
<path d="M259.50,166.00 L257.10,160.40 L259.50,161.80 L261.90,160.40 Z" fill="#231f20"/>
<path d="M282.00,166.00 L279.60,160.40 L282.00,161.80 L284.40,160.40 Z" fill="#231f20"/>
<line x1="267.05" y1="151.94" x2="267.05" y2="154.46" stroke="#2a2a35" stroke-width="0.95"/>
<line x1="265.95" y1="152.57" x2="268.15" y2="153.83" stroke="#2a2a35" stroke-width="0.95"/>
<line x1="265.95" y1="153.83" x2="268.15" y2="152.57" stroke="#2a2a35" stroke-width="0.95"/>
<line x1="270.75" y1="151.94" x2="270.75" y2="154.46" stroke="#2a2a35" stroke-width="0.95"/>
<line x1="269.65" y1="152.57" x2="271.85" y2="153.83" stroke="#2a2a35" stroke-width="0.95"/>
<line x1="269.65" y1="153.83" x2="271.85" y2="152.57" stroke="#2a2a35" stroke-width="0.95"/>
<line x1="274.45" y1="151.94" x2="274.45" y2="154.46" stroke="#2a2a35" stroke-width="0.95"/>
<line x1="273.35" y1="152.57" x2="275.55" y2="153.83" stroke="#2a2a35" stroke-width="0.95"/>
<line x1="273.35" y1="153.83" x2="275.55" y2="152.57" stroke="#2a2a35" stroke-width="0.95"/>
<line x1="259.3" y1="242.3" x2="259.3" y2="244.5" stroke="#231f20" stroke-width="0.9" />
<line x1="282.0" y1="242.3" x2="282.0" y2="244.5" stroke="#231f20" stroke-width="0.9" />
<text transform="translate(262.6,251.0) rotate(-45)" font-size="8.2" fill="#231f20" text-anchor="end">shNC</text>
<text transform="translate(285.2,250.6) rotate(-45)" font-size="8.2" fill="#231f20" text-anchor="end">shATAD2</text>
<text transform="translate(219.4,202.8) rotate(-90)" font-size="9.0" fill="#231f20" text-anchor="middle" textLength="50.5" lengthAdjust="spacingAndGlyphs">Percentage (%)</text>
<rect x="302.8" y="218.6" width="5.7" height="5.7" fill="#a786ae" stroke="none" stroke-width="0" />
<rect x="302.8" y="230.1" width="5.7" height="5.7" fill="#aed5f2" stroke="none" stroke-width="0" />
<text x="311.0" y="224.5" font-size="7.9" fill="#231f20">S+G2</text>
<text x="311.0" y="236.0" font-size="7.9" fill="#231f20">G1</text>
<text x="341.0" y="146.8" font-size="12" fill="#000" font-weight="bold" style="stroke:#000;stroke-width:0.35px">E</text>
<line x1="374.6" y1="153.0" x2="374.6" y2="235.5" stroke="#231f20" stroke-width="1" />
<line x1="374.1" y1="235.0" x2="499.3" y2="235.0" stroke="#231f20" stroke-width="1" />
<line x1="372.3" y1="235.0" x2="374.6" y2="235.0" stroke="#231f20" stroke-width="0.9" />
<text x="368.8" y="238.0" font-size="8.5" fill="#231f20" text-anchor="end">0</text>
<line x1="372.3" y1="197.5" x2="374.6" y2="197.5" stroke="#231f20" stroke-width="0.9" />
<text x="368.8" y="200.5" font-size="8.5" fill="#231f20" text-anchor="end">50</text>
<line x1="372.3" y1="160.0" x2="374.6" y2="160.0" stroke="#231f20" stroke-width="0.9" />
<text x="368.8" y="163.0" font-size="8.5" fill="#231f20" text-anchor="end">100</text>
<line x1="374.6" y1="235.0" x2="374.6" y2="237.3" stroke="#231f20" stroke-width="0.9" />
<text x="374.6" y="248.4" font-size="8.5" fill="#231f20" text-anchor="middle">0</text>
<line x1="397.20000000000005" y1="235.0" x2="397.20000000000005" y2="237.3" stroke="#231f20" stroke-width="0.9" />
<text x="397.20000000000005" y="248.4" font-size="8.5" fill="#231f20" text-anchor="middle">10</text>
<line x1="419.8" y1="235.0" x2="419.8" y2="237.3" stroke="#231f20" stroke-width="0.9" />
<text x="419.8" y="248.4" font-size="8.5" fill="#231f20" text-anchor="middle">20</text>
<line x1="442.40000000000003" y1="235.0" x2="442.40000000000003" y2="237.3" stroke="#231f20" stroke-width="0.9" />
<text x="442.40000000000003" y="248.4" font-size="8.5" fill="#231f20" text-anchor="middle">30</text>
<line x1="465.0" y1="235.0" x2="465.0" y2="237.3" stroke="#231f20" stroke-width="0.9" />
<text x="465.0" y="248.4" font-size="8.5" fill="#231f20" text-anchor="middle">40</text>
<line x1="487.6" y1="235.0" x2="487.6" y2="237.3" stroke="#231f20" stroke-width="0.9" />
<text x="487.6" y="248.4" font-size="8.5" fill="#231f20" text-anchor="middle">50</text>
<text x="437.3" y="261.0" font-size="9.2" fill="#231f20" text-anchor="middle" textLength="15.4" lengthAdjust="spacingAndGlyphs">Days</text>
<text transform="translate(349.6,193.9) rotate(-90)" font-size="9.0" fill="#231f20" text-anchor="middle" textLength="39.8" lengthAdjust="spacingAndGlyphs">Survival (%)</text>
<path d="M374.6,160.0 L433.36,160.0 L433.36,178.75 L435.62,178.75 L435.62,197.5 L437.88000000000005,197.5 L437.88000000000005,206.875 L440.14000000000004,206.875 L440.14000000000004,216.25 L442.40000000000003,216.25 L442.40000000000003,225.625 L444.66,225.625 L444.66,235.0" fill="none" stroke="#c4435e" stroke-width="1.0" />
<path d="M374.6,160.0 L474.04,160.0 L474.04,178.75 L478.56000000000006,178.75 L478.56000000000006,206.875 L480.82000000000005,206.875 L480.82000000000005,216.25 L483.08000000000004,216.25 L483.08000000000004,225.625 L485.34000000000003,225.625 L485.34000000000003,235.0" fill="none" stroke="#5ab0d8" stroke-width="1.0" />
<path d="M374.6,160.0 L433.36,160.0" fill="none" stroke="#c4435e" stroke-width="1.0" />
<text x="382.2" y="212.8" font-size="8.0" fill="#231f20" textLength="32.6" lengthAdjust="spacingAndGlyphs">shNC <tspan font-style="italic">vs.</tspan></text>
<line x1="380.2" y1="215.0" x2="416.0" y2="215.0" stroke="#231f20" stroke-width="0.9" />
<text x="380.2" y="224.9" font-size="8.0" fill="#231f20">sh<tspan font-style="italic">ATAD2</tspan><tspan font-size="9.5" dy="1.2">***</tspan></text>
<line x1="370.5" y1="274.6" x2="379.5" y2="274.6" stroke="#c4435e" stroke-width="1.0" />
<circle cx="375.00" cy="274.60" r="0.9" fill="#c4435e"/>
<text x="382.8" y="277.3" font-size="7.8" fill="#231f20" textLength="44.6" lengthAdjust="spacingAndGlyphs">shNC (n = 8)</text>
<line x1="433.8" y1="274.6" x2="443.0" y2="274.6" stroke="#5ab0d8" stroke-width="1.0" />
<circle cx="438.40" cy="274.60" r="0.9" fill="#5ab0d8"/>
<text x="446.0" y="277.3" font-size="7.8" fill="#231f20" textLength="57.5" lengthAdjust="spacingAndGlyphs">sh<tspan font-style="italic">ATAD2</tspan> (n = 8)</text>
<text x="6.4" y="297.8" font-size="12" fill="#000" font-weight="bold" style="stroke:#000;stroke-width:0.35px">F</text>
<line x1="46.8" y1="307.5" x2="46.8" y2="417.8" stroke="#231f20" stroke-width="1.1" />
<line x1="46.3" y1="417.3" x2="115.6" y2="417.3" stroke="#231f20" stroke-width="1.1" />
<line x1="44.4" y1="417.3" x2="46.8" y2="417.3" stroke="#231f20" stroke-width="0.9" />
<text x="41.199999999999996" y="420.2" font-size="8.0" fill="#231f20" text-anchor="end">0</text>
<line x1="44.4" y1="391.6" x2="46.8" y2="391.6" stroke="#231f20" stroke-width="0.9" />
<text x="41.199999999999996" y="394.5" font-size="8.0" fill="#231f20" text-anchor="end">20</text>
<line x1="44.4" y1="365.90000000000003" x2="46.8" y2="365.90000000000003" stroke="#231f20" stroke-width="0.9" />
<text x="41.199999999999996" y="368.8" font-size="8.0" fill="#231f20" text-anchor="end">40</text>
<line x1="44.4" y1="340.20000000000005" x2="46.8" y2="340.20000000000005" stroke="#231f20" stroke-width="0.9" />
<text x="41.199999999999996" y="343.1" font-size="8.0" fill="#231f20" text-anchor="end">60</text>
<line x1="44.4" y1="314.5" x2="46.8" y2="314.5" stroke="#231f20" stroke-width="0.9" />
<text x="41.199999999999996" y="317.4" font-size="8.0" fill="#231f20" text-anchor="end">80</text>
<line x1="66.3" y1="417.3" x2="66.3" y2="419.7" stroke="#231f20" stroke-width="0.9" />
<line x1="95.5" y1="417.3" x2="95.5" y2="419.7" stroke="#231f20" stroke-width="0.9" />
<text transform="translate(70.1,426.3) rotate(-45)" font-size="8.3" fill="#231f20" text-anchor="end">shNC</text>
<text transform="translate(99.3,426.7) rotate(-45)" font-size="8.3" fill="#231f20" text-anchor="end">shATAD2</text>
<rect x="56.9" y="337.2445" width="18.8" height="4.368999999999998" fill="#f0a898" stroke="none" stroke-width="0" />
<line x1="56.9" y1="339.42900000000003" x2="75.7" y2="339.42900000000003" stroke="#231f20" stroke-width="0.9" />
<line x1="66.3" y1="336.60200000000003" x2="66.3" y2="341.999" stroke="#231f20" stroke-width="0.9" />
<line x1="61.5" y1="336.60200000000003" x2="71.1" y2="336.60200000000003" stroke="#231f20" stroke-width="0.9" />
<line x1="61.5" y1="341.999" x2="71.1" y2="341.999" stroke="#231f20" stroke-width="0.9" />
<circle cx="58.80" cy="338.92" r="1.35" fill="#000"/>
<circle cx="61.80" cy="338.14" r="1.35" fill="#000"/>
<circle cx="64.80" cy="338.92" r="1.35" fill="#000"/>
<circle cx="67.80" cy="338.14" r="1.35" fill="#000"/>
<circle cx="70.80" cy="338.66" r="1.35" fill="#000"/>
<circle cx="73.80" cy="339.17" r="1.35" fill="#000"/>
<circle cx="63.80" cy="341.10" r="1.35" fill="#000"/>
<circle cx="66.80" cy="341.49" r="1.35" fill="#000"/>
<circle cx="69.80" cy="341.49" r="1.35" fill="#000"/>
<circle cx="72.80" cy="342.13" r="1.35" fill="#000"/>
<rect x="86.1" y="372.96750000000003" width="18.8" height="12.464499999999997" fill="#b8d9f3" stroke="none" stroke-width="0" />
<line x1="86.1" y1="379.264" x2="104.9" y2="379.264" stroke="#231f20" stroke-width="0.9" />
<line x1="95.5" y1="370.269" x2="95.5" y2="387.745" stroke="#231f20" stroke-width="0.9" />
<line x1="90.7" y1="370.269" x2="100.3" y2="370.269" stroke="#231f20" stroke-width="0.9" />
<line x1="90.7" y1="387.745" x2="100.3" y2="387.745" stroke="#231f20" stroke-width="0.9" />
<circle cx="92.30" cy="374.25" r="1.35" fill="#000"/>
<circle cx="100.00" cy="372.97" r="1.35" fill="#000"/>
<circle cx="94.50" cy="370.78" r="1.35" fill="#000"/>
<circle cx="97.00" cy="371.04" r="1.35" fill="#000"/>
<circle cx="93.00" cy="383.89" r="1.35" fill="#000"/>
<circle cx="98.50" cy="386.46" r="1.35" fill="#000"/>
<circle cx="94.00" cy="387.10" r="1.35" fill="#000"/>
<circle cx="96.00" cy="387.49" r="1.35" fill="#000"/>
<path d="M66.3,323.6 L66.3,312.8 L95.5,312.8 L95.5,354.0" fill="none" stroke="#231f20" stroke-width="0.9" />
<path d="M66.30,327.00 L63.90,321.40 L66.30,322.80 L68.70,321.40 Z" fill="#231f20"/>
<path d="M95.50,357.40 L93.10,351.80 L95.50,353.20 L97.90,351.80 Z" fill="#231f20"/>
<line x1="77.20" y1="307.54" x2="77.20" y2="310.06" stroke="#2a2a35" stroke-width="0.95"/>
<line x1="76.10" y1="308.17" x2="78.30" y2="309.43" stroke="#2a2a35" stroke-width="0.95"/>
<line x1="76.10" y1="309.43" x2="78.30" y2="308.17" stroke="#2a2a35" stroke-width="0.95"/>
<line x1="80.90" y1="307.54" x2="80.90" y2="310.06" stroke="#2a2a35" stroke-width="0.95"/>
<line x1="79.80" y1="308.17" x2="82.00" y2="309.43" stroke="#2a2a35" stroke-width="0.95"/>
<line x1="79.80" y1="309.43" x2="82.00" y2="308.17" stroke="#2a2a35" stroke-width="0.95"/>
<line x1="84.60" y1="307.54" x2="84.60" y2="310.06" stroke="#2a2a35" stroke-width="0.95"/>
<line x1="83.50" y1="308.17" x2="85.70" y2="309.43" stroke="#2a2a35" stroke-width="0.95"/>
<line x1="83.50" y1="309.43" x2="85.70" y2="308.17" stroke="#2a2a35" stroke-width="0.95"/>
<text transform="translate(14.9,364.6) rotate(-90)" font-size="9.0" fill="#231f20" text-anchor="middle" textLength="49.0" lengthAdjust="spacingAndGlyphs">CD45 and CD7</text>
<text transform="translate(25.4,363.8) rotate(-90)" font-size="9.4" fill="#231f20" text-anchor="middle" textLength="64.0" lengthAdjust="spacingAndGlyphs">double positive (%)</text>
<text x="52.2" y="405.0" font-size="8.6" fill="#231f20" textLength="24.6" lengthAdjust="spacingAndGlyphs">Spleen</text>
<line x1="166.3" y1="306.8" x2="166.3" y2="417.8" stroke="#231f20" stroke-width="1.1" />
<line x1="165.8" y1="417.3" x2="234.6" y2="417.3" stroke="#231f20" stroke-width="1.1" />
<line x1="163.9" y1="417.3" x2="166.3" y2="417.3" stroke="#231f20" stroke-width="0.9" />
<text x="160.70000000000002" y="420.2" font-size="8.0" fill="#231f20" text-anchor="end">0</text>
<line x1="163.9" y1="396.6" x2="166.3" y2="396.6" stroke="#231f20" stroke-width="0.9" />
<text x="160.70000000000002" y="399.5" font-size="8.0" fill="#231f20" text-anchor="end">20</text>
<line x1="163.9" y1="375.90000000000003" x2="166.3" y2="375.90000000000003" stroke="#231f20" stroke-width="0.9" />
<text x="160.70000000000002" y="378.8" font-size="8.0" fill="#231f20" text-anchor="end">40</text>
<line x1="163.9" y1="355.20000000000005" x2="166.3" y2="355.20000000000005" stroke="#231f20" stroke-width="0.9" />
<text x="160.70000000000002" y="358.1" font-size="8.0" fill="#231f20" text-anchor="end">60</text>
<line x1="163.9" y1="334.5" x2="166.3" y2="334.5" stroke="#231f20" stroke-width="0.9" />
<text x="160.70000000000002" y="337.4" font-size="8.0" fill="#231f20" text-anchor="end">80</text>
<line x1="163.9" y1="313.8" x2="166.3" y2="313.8" stroke="#231f20" stroke-width="0.9" />
<text x="160.70000000000002" y="316.7" font-size="8.0" fill="#231f20" text-anchor="end">100</text>
<line x1="185.6" y1="417.3" x2="185.6" y2="419.7" stroke="#231f20" stroke-width="0.9" />
<line x1="215.2" y1="417.3" x2="215.2" y2="419.7" stroke="#231f20" stroke-width="0.9" />
<text transform="translate(189.4,426.3) rotate(-45)" font-size="8.3" fill="#231f20" text-anchor="end">shNC</text>
<text transform="translate(219.0,426.7) rotate(-45)" font-size="8.3" fill="#231f20" text-anchor="end">shATAD2</text>
<rect x="176.2" y="339.1575" width="18.8" height="5.175" fill="#f0a898" stroke="none" stroke-width="0" />
<line x1="176.2" y1="341.2275" x2="195.0" y2="341.2275" stroke="#231f20" stroke-width="0.9" />
<line x1="185.6" y1="335.01750000000004" x2="185.6" y2="347.4375" stroke="#231f20" stroke-width="0.9" />
<line x1="180.79999999999998" y1="335.01750000000004" x2="190.4" y2="335.01750000000004" stroke="#231f20" stroke-width="0.9" />
<line x1="180.79999999999998" y1="347.4375" x2="190.4" y2="347.4375" stroke="#231f20" stroke-width="0.9" />
<circle cx="179.10" cy="339.68" r="1.35" fill="#000"/>
<circle cx="182.60" cy="341.23" r="1.35" fill="#000"/>
<circle cx="185.60" cy="340.71" r="1.35" fill="#000"/>
<circle cx="188.60" cy="341.95" r="1.35" fill="#000"/>
<circle cx="192.10" cy="339.47" r="1.35" fill="#000"/>
<circle cx="183.60" cy="344.85" r="1.35" fill="#000"/>
<circle cx="187.10" cy="346.92" r="1.35" fill="#000"/>
<circle cx="185.60" cy="336.57" r="1.35" fill="#000"/>
<rect x="205.79999999999998" y="371.76" width="18.8" height="6.727499999999999" fill="#b8d9f3" stroke="none" stroke-width="0" />
<line x1="205.79999999999998" y1="374.3475" x2="224.6" y2="374.3475" stroke="#231f20" stroke-width="0.9" />
<line x1="215.2" y1="367.1025" x2="215.2" y2="382.317" stroke="#231f20" stroke-width="0.9" />
<line x1="210.39999999999998" y1="367.1025" x2="220.0" y2="367.1025" stroke="#231f20" stroke-width="0.9" />
<line x1="210.39999999999998" y1="382.317" x2="220.0" y2="382.317" stroke="#231f20" stroke-width="0.9" />
<circle cx="211.20" cy="372.28" r="1.35" fill="#000"/>
<circle cx="217.20" cy="371.24" r="1.35" fill="#000"/>
<circle cx="220.20" cy="374.87" r="1.35" fill="#000"/>
<circle cx="213.20" cy="375.38" r="1.35" fill="#000"/>
<circle cx="216.20" cy="376.42" r="1.35" fill="#000"/>
<circle cx="212.20" cy="379.00" r="1.35" fill="#000"/>
<circle cx="217.20" cy="380.04" r="1.35" fill="#000"/>
<circle cx="215.20" cy="368.14" r="1.35" fill="#000"/>
<circle cx="215.20" cy="381.59" r="1.35" fill="#000"/>
<path d="M185.6,322.0 L185.6,308.0 L215.2,308.0 L215.2,346.8" fill="none" stroke="#231f20" stroke-width="0.9" />
<path d="M185.60,325.40 L183.20,319.80 L185.60,321.20 L188.00,319.80 Z" fill="#231f20"/>
<path d="M215.20,350.20 L212.80,344.60 L215.20,346.00 L217.60,344.60 Z" fill="#231f20"/>
<line x1="196.70" y1="302.74" x2="196.70" y2="305.26" stroke="#2a2a35" stroke-width="0.95"/>
<line x1="195.60" y1="303.37" x2="197.80" y2="304.63" stroke="#2a2a35" stroke-width="0.95"/>
<line x1="195.60" y1="304.63" x2="197.80" y2="303.37" stroke="#2a2a35" stroke-width="0.95"/>
<line x1="200.40" y1="302.74" x2="200.40" y2="305.26" stroke="#2a2a35" stroke-width="0.95"/>
<line x1="199.30" y1="303.37" x2="201.50" y2="304.63" stroke="#2a2a35" stroke-width="0.95"/>
<line x1="199.30" y1="304.63" x2="201.50" y2="303.37" stroke="#2a2a35" stroke-width="0.95"/>
<line x1="204.10" y1="302.74" x2="204.10" y2="305.26" stroke="#2a2a35" stroke-width="0.95"/>
<line x1="203.00" y1="303.37" x2="205.20" y2="304.63" stroke="#2a2a35" stroke-width="0.95"/>
<line x1="203.00" y1="304.63" x2="205.20" y2="303.37" stroke="#2a2a35" stroke-width="0.95"/>
<text transform="translate(129.4,364.6) rotate(-90)" font-size="9.0" fill="#231f20" text-anchor="middle" textLength="49.0" lengthAdjust="spacingAndGlyphs">CD45 and CD7</text>
<text transform="translate(140.4,363.6) rotate(-90)" font-size="9.4" fill="#231f20" text-anchor="middle" textLength="64.0" lengthAdjust="spacingAndGlyphs">double positive (%)</text>
<text x="174.3" y="406.4" font-size="8.6" fill="#231f20" textLength="12.2" lengthAdjust="spacingAndGlyphs">BM</text>
<text x="244.3" y="297.8" font-size="12" fill="#000" font-weight="bold" style="stroke:#000;stroke-width:0.35px">G</text>
<line x1="279.6" y1="313.0" x2="279.6" y2="417.4" stroke="#231f20" stroke-width="1.1" />
<line x1="279.1" y1="416.9" x2="348.4" y2="416.9" stroke="#231f20" stroke-width="1.1" />
<line x1="277.20000000000005" y1="416.9" x2="279.6" y2="416.9" stroke="#231f20" stroke-width="0.9" />
<text x="274.20000000000005" y="419.79999999999995" font-size="8.0" fill="#231f20" text-anchor="end">10<tspan font-size="5.4" dy="-3.4">−4</tspan></text>
<line x1="277.20000000000005" y1="396.42999999999995" x2="279.6" y2="396.42999999999995" stroke="#231f20" stroke-width="0.9" />
<text x="274.20000000000005" y="399.3299999999999" font-size="8.0" fill="#231f20" text-anchor="end">10<tspan font-size="5.4" dy="-3.4">−3</tspan></text>
<line x1="277.20000000000005" y1="375.96" x2="279.6" y2="375.96" stroke="#231f20" stroke-width="0.9" />
<text x="274.20000000000005" y="378.85999999999996" font-size="8.0" fill="#231f20" text-anchor="end">10<tspan font-size="5.4" dy="-3.4">−2</tspan></text>
<line x1="277.20000000000005" y1="355.49" x2="279.6" y2="355.49" stroke="#231f20" stroke-width="0.9" />
<text x="274.20000000000005" y="358.39" font-size="8.0" fill="#231f20" text-anchor="end">10<tspan font-size="5.4" dy="-3.4">−1</tspan></text>
<line x1="277.20000000000005" y1="335.02" x2="279.6" y2="335.02" stroke="#231f20" stroke-width="0.9" />
<text x="274.20000000000005" y="337.91999999999996" font-size="8.0" fill="#231f20" text-anchor="end">1</text>
<line x1="277.20000000000005" y1="314.54999999999995" x2="279.6" y2="314.54999999999995" stroke="#231f20" stroke-width="0.9" />
<text x="274.20000000000005" y="317.44999999999993" font-size="8.0" fill="#231f20" text-anchor="end">10</text>
<line x1="299.4" y1="416.9" x2="299.4" y2="419.3" stroke="#231f20" stroke-width="0.9" />
<line x1="328.6" y1="416.9" x2="328.6" y2="419.3" stroke="#231f20" stroke-width="0.9" />
<text transform="translate(306.6,429.6) rotate(-45)" font-size="8.3" fill="#231f20" text-anchor="end" textLength="51.5" lengthAdjust="spacingAndGlyphs">T-ALL (n = 38)</text>
<text transform="translate(336.0,429.6) rotate(-45)" font-size="8.3" fill="#231f20" text-anchor="end" textLength="43.5" lengthAdjust="spacingAndGlyphs">NC (n = 32)</text>
<text transform="translate(253.4,364.9) rotate(-90)" font-size="8.6" fill="#231f20" text-anchor="middle" textLength="59.4" lengthAdjust="spacingAndGlyphs"><tspan font-style="italic">ATAD2</tspan> expression</text>
<rect x="290.2" y="354.8" width="18.19999999999999" height="26.5" fill="#e88b80" stroke="none" stroke-width="0" />
<line x1="290.2" y1="370.0" x2="308.4" y2="370.0" stroke="#231f20" stroke-width="0.9" />
<line x1="299.2" y1="327.3" x2="299.2" y2="398.1" stroke="#231f20" stroke-width="0.9" />
<line x1="294.8" y1="327.3" x2="303.59999999999997" y2="327.3" stroke="#231f20" stroke-width="0.9" />
<line x1="294.8" y1="398.1" x2="303.59999999999997" y2="398.1" stroke="#231f20" stroke-width="0.9" />
<circle cx="295.90" cy="327.30" r="1.15" fill="#000"/>
<circle cx="302.80" cy="327.80" r="1.15" fill="#000"/>
<circle cx="297.10" cy="332.50" r="1.15" fill="#000"/>
<circle cx="300.90" cy="332.50" r="1.15" fill="#000"/>
<circle cx="299.00" cy="336.30" r="1.15" fill="#000"/>
<circle cx="297.10" cy="348.10" r="1.15" fill="#000"/>
<circle cx="300.90" cy="348.10" r="1.15" fill="#000"/>
<circle cx="297.10" cy="353.80" r="1.15" fill="#000"/>
<circle cx="300.90" cy="353.80" r="1.15" fill="#000"/>
<circle cx="292.80" cy="363.80" r="1.15" fill="#000"/>
<circle cx="297.10" cy="362.50" r="1.15" fill="#000"/>
<circle cx="300.90" cy="363.10" r="1.15" fill="#000"/>
<circle cx="304.60" cy="362.50" r="1.15" fill="#000"/>
<circle cx="293.40" cy="365.60" r="1.15" fill="#000"/>
<circle cx="300.90" cy="365.60" r="1.15" fill="#000"/>
<circle cx="297.10" cy="368.10" r="1.15" fill="#000"/>
<circle cx="304.60" cy="367.50" r="1.15" fill="#000"/>
<circle cx="295.20" cy="371.30" r="1.15" fill="#000"/>
<circle cx="299.00" cy="370.60" r="1.15" fill="#000"/>
<circle cx="302.80" cy="371.30" r="1.15" fill="#000"/>
<circle cx="299.00" cy="375.00" r="1.15" fill="#000"/>
<circle cx="302.80" cy="372.50" r="1.15" fill="#000"/>
<circle cx="295.20" cy="379.40" r="1.15" fill="#000"/>
<circle cx="299.00" cy="380.00" r="1.15" fill="#000"/>
<circle cx="302.80" cy="379.80" r="1.15" fill="#000"/>
<circle cx="295.20" cy="381.30" r="1.15" fill="#000"/>
<circle cx="291.50" cy="384.40" r="1.15" fill="#000"/>
<circle cx="302.80" cy="383.80" r="1.15" fill="#000"/>
<circle cx="306.50" cy="383.80" r="1.15" fill="#000"/>
<circle cx="299.00" cy="387.50" r="1.15" fill="#000"/>
<circle cx="297.10" cy="390.00" r="1.15" fill="#000"/>
<circle cx="300.90" cy="391.90" r="1.15" fill="#000"/>
<circle cx="297.10" cy="398.10" r="1.15" fill="#000"/>
<circle cx="300.90" cy="398.10" r="1.15" fill="#000"/>
<circle cx="293.50" cy="370.50" r="1.15" fill="#000"/>
<circle cx="305.50" cy="370.00" r="1.15" fill="#000"/>
<rect x="319.4" y="372.2" width="18.400000000000034" height="10.800000000000011" fill="#bcdaf4" stroke="none" stroke-width="0" />
<line x1="319.4" y1="377.4" x2="337.8" y2="377.4" stroke="#231f20" stroke-width="0.9" />
<line x1="328.5" y1="361.5" x2="328.5" y2="395.9" stroke="#231f20" stroke-width="0.9" />
<line x1="324.2" y1="361.5" x2="332.8" y2="361.5" stroke="#231f20" stroke-width="0.9" />
<line x1="324.2" y1="395.9" x2="332.8" y2="395.9" stroke="#231f20" stroke-width="0.9" />
<circle cx="325.50" cy="361.90" r="1.15" fill="#000"/>
<circle cx="331.10" cy="361.90" r="1.15" fill="#000"/>
<circle cx="325.90" cy="363.90" r="1.15" fill="#000"/>
<circle cx="331.10" cy="364.30" r="1.15" fill="#000"/>
<circle cx="325.90" cy="366.70" r="1.15" fill="#000"/>
<circle cx="331.10" cy="365.10" r="1.15" fill="#000"/>
<circle cx="324.30" cy="371.80" r="1.15" fill="#000"/>
<circle cx="327.10" cy="372.60" r="1.15" fill="#000"/>
<circle cx="329.90" cy="373.00" r="1.15" fill="#000"/>
<circle cx="332.70" cy="373.80" r="1.15" fill="#000"/>
<circle cx="320.00" cy="377.20" r="1.15" fill="#000"/>
<circle cx="322.20" cy="377.20" r="1.15" fill="#000"/>
<circle cx="324.60" cy="377.20" r="1.15" fill="#000"/>
<circle cx="327.00" cy="376.90" r="1.15" fill="#000"/>
<circle cx="329.30" cy="376.60" r="1.15" fill="#000"/>
<circle cx="331.60" cy="376.90" r="1.15" fill="#000"/>
<circle cx="334.00" cy="377.20" r="1.15" fill="#000"/>
<circle cx="336.40" cy="376.90" r="1.15" fill="#000"/>
<circle cx="322.70" cy="380.60" r="1.15" fill="#000"/>
<circle cx="325.10" cy="381.70" r="1.15" fill="#000"/>
<circle cx="327.90" cy="381.70" r="1.15" fill="#000"/>
<circle cx="330.70" cy="382.10" r="1.15" fill="#000"/>
<circle cx="333.00" cy="381.30" r="1.15" fill="#000"/>
<circle cx="328.70" cy="383.70" r="1.15" fill="#000"/>
<circle cx="331.50" cy="384.10" r="1.15" fill="#000"/>
<circle cx="335.00" cy="384.10" r="1.15" fill="#000"/>
<circle cx="321.10" cy="386.50" r="1.15" fill="#000"/>
<circle cx="323.50" cy="386.10" r="1.15" fill="#000"/>
<circle cx="328.30" cy="388.10" r="1.15" fill="#000"/>
<circle cx="329.10" cy="390.50" r="1.15" fill="#000"/>
<circle cx="326.70" cy="393.30" r="1.15" fill="#000"/>
<circle cx="328.50" cy="395.90" r="1.15" fill="#000"/>
<path d="M299.2,320.0 L299.2,310.2 L328.5,310.2 L328.5,350.2" fill="none" stroke="#231f20" stroke-width="0.9" />
<path d="M299.20,323.40 L296.80,317.80 L299.20,319.20 L301.60,317.80 Z" fill="#231f20"/>
<path d="M328.50,353.60 L326.10,348.00 L328.50,349.40 L330.90,348.00 Z" fill="#231f20"/>
<line x1="313.85" y1="304.94" x2="313.85" y2="307.46" stroke="#2a2a35" stroke-width="0.95"/>
<line x1="312.75" y1="305.57" x2="314.95" y2="306.83" stroke="#2a2a35" stroke-width="0.95"/>
<line x1="312.75" y1="306.83" x2="314.95" y2="305.57" stroke="#2a2a35" stroke-width="0.95"/>
<text x="357.3" y="297.8" font-size="12" fill="#000" font-weight="bold" style="stroke:#000;stroke-width:0.35px">H</text>
<line x1="386.2" y1="304.5" x2="386.2" y2="417.8" stroke="#231f20" stroke-width="1" />
<line x1="385.7" y1="417.3" x2="466.8" y2="417.3" stroke="#231f20" stroke-width="1" />
<line x1="383.8" y1="417.3" x2="386.2" y2="417.3" stroke="#231f20" stroke-width="0.9" />
<text x="382.0" y="420.3" font-size="8.5" fill="#231f20" text-anchor="end">0</text>
<line x1="383.8" y1="367.65000000000003" x2="386.2" y2="367.65000000000003" stroke="#231f20" stroke-width="0.9" />
<text x="382.0" y="370.65000000000003" font-size="8.5" fill="#231f20" text-anchor="end">10</text>
<line x1="383.8" y1="318.0" x2="386.2" y2="318.0" stroke="#231f20" stroke-width="0.9" />
<text x="382.0" y="321.0" font-size="8.5" fill="#231f20" text-anchor="end">20</text>
<rect x="398.9" y="322.96500000000003" width="21.5" height="39.72" fill="#a786ae" stroke="none" stroke-width="0" />
<rect x="398.9" y="362.685" width="21.5" height="54.614999999999995" fill="#aed5f2" stroke="none" stroke-width="0" />
<rect x="433.4" y="322.96500000000003" width="21.3" height="74.475" fill="#a786ae" stroke="none" stroke-width="0" />
<rect x="433.4" y="397.44" width="21.3" height="19.86" fill="#aed5f2" stroke="none" stroke-width="0" />
<text x="409.4" y="346.0" font-size="6.6" fill="#2a1f30" text-anchor="middle">n = 8</text>
<text x="409.4" y="392.8" font-size="6.6" fill="#1f2430" text-anchor="middle">n = 11</text>
<text x="443.6" y="363.3" font-size="6.6" fill="#2a1f30" text-anchor="middle">n = 15</text>
<text x="443.6" y="409.1" font-size="6.6" fill="#1f2430" text-anchor="middle">n = 4</text>
<line x1="409.6" y1="417.3" x2="409.6" y2="419.6" stroke="#231f20" stroke-width="0.9" />
<line x1="443.8" y1="417.3" x2="443.8" y2="419.6" stroke="#231f20" stroke-width="0.9" />
<path d="M409.6,316.2 L409.6,310.8 L444.0,310.8 L444.0,316.2" fill="none" stroke="#231f20" stroke-width="0.9" />
<path d="M409.60,319.60 L407.20,314.00 L409.60,315.40 L412.00,314.00 Z" fill="#231f20"/>
<path d="M444.00,319.60 L441.60,314.00 L444.00,315.40 L446.40,314.00 Z" fill="#231f20"/>
<line x1="426.80" y1="305.54" x2="426.80" y2="308.06" stroke="#2a2a35" stroke-width="0.95"/>
<line x1="425.70" y1="306.17" x2="427.90" y2="307.43" stroke="#2a2a35" stroke-width="0.95"/>
<line x1="425.70" y1="307.43" x2="427.90" y2="306.17" stroke="#2a2a35" stroke-width="0.95"/>
<text transform="translate(366.4,357.4) rotate(-90)" font-size="9.0" fill="#231f20" text-anchor="middle" textLength="51.7" lengthAdjust="spacingAndGlyphs">Patient number</text>
<rect x="462.9" y="357.8" width="5.7" height="5.7" fill="#a786ae" stroke="none" stroke-width="0" />
<rect x="462.9" y="379.0" width="5.7" height="5.7" fill="#aed5f2" stroke="none" stroke-width="0" />
<text x="472.0" y="363.2" font-size="8.0" fill="#231f20" textLength="40.6" lengthAdjust="spacingAndGlyphs">No Relapse</text>
<text x="472.0" y="373.0" font-size="8.0" fill="#231f20">(n = 23)</text>
<text x="472.0" y="384.1" font-size="8.0" fill="#231f20">Relapse</text>
<text x="472.0" y="393.8" font-size="8.0" fill="#231f20">(n = 15)</text>
<text transform="translate(413.4,425.6) rotate(-45)" font-size="8.3" fill="#231f20" text-anchor="end">ATAD2<tspan font-size="6" dy="-3.2">High</tspan><tspan dy="3.2"> (n = 19)</tspan></text>
<text transform="translate(447.4,425.6) rotate(-45)" font-size="8.3" fill="#231f20" text-anchor="end">ATAD2<tspan font-size="6" dy="-3.2">Low</tspan><tspan dy="3.2"> (n = 19)</tspan></text>
<text x="207.2" y="495.6" font-size="12" fill="#000" font-weight="bold" style="stroke:#000;stroke-width:0.35px">I</text>
<line x1="242.9" y1="509.9" x2="242.9" y2="615.3" stroke="#231f20" stroke-width="1.1" />
<line x1="242.4" y1="614.9000000000001" x2="312.0" y2="614.9000000000001" stroke="#231f20" stroke-width="1.1" />
<line x1="240.5" y1="512.6" x2="242.9" y2="512.6" stroke="#231f20" stroke-width="0.9" />
<text x="237.1" y="515.5" font-size="8.0" fill="#231f20" text-anchor="end">1</text>
<line x1="240.5" y1="546.7" x2="242.9" y2="546.7" stroke="#231f20" stroke-width="0.9" />
<text x="237.1" y="549.6" font-size="8.0" fill="#231f20" text-anchor="end">10<tspan font-size="5.4" dy="-3.4">−1</tspan></text>
<line x1="240.5" y1="580.8000000000001" x2="242.9" y2="580.8000000000001" stroke="#231f20" stroke-width="0.9" />
<text x="237.1" y="583.7" font-size="8.0" fill="#231f20" text-anchor="end">10<tspan font-size="5.4" dy="-3.4">−2</tspan></text>
<line x1="240.5" y1="614.9000000000001" x2="242.9" y2="614.9000000000001" stroke="#231f20" stroke-width="0.9" />
<text x="237.1" y="617.8000000000001" font-size="8.0" fill="#231f20" text-anchor="end">10<tspan font-size="5.4" dy="-3.4">−3</tspan></text>
<line x1="262.6" y1="614.9000000000001" x2="262.6" y2="617.3000000000001" stroke="#231f20" stroke-width="0.9" />
<line x1="292.0" y1="614.9000000000001" x2="292.0" y2="617.3000000000001" stroke="#231f20" stroke-width="0.9" />
<line x1="262.6" y1="533.6" x2="292.0" y2="517.5" stroke="#231f20" stroke-width="0.95" />
<line x1="262.6" y1="544.4" x2="292.0" y2="517.8" stroke="#231f20" stroke-width="0.95" />
<line x1="262.6" y1="585.0" x2="292.0" y2="537.7" stroke="#231f20" stroke-width="0.95" />
<line x1="262.6" y1="591.3" x2="292.0" y2="540.1" stroke="#231f20" stroke-width="0.95" />
<line x1="262.6" y1="597.7" x2="292.0" y2="542.6" stroke="#231f20" stroke-width="0.95" />
<circle cx="262.60" cy="533.60" r="1.35" fill="#1f4f8f"/>
<circle cx="292.00" cy="517.50" r="1.55" fill="#d0203c"/>
<circle cx="262.60" cy="544.40" r="1.35" fill="#1f4f8f"/>
<circle cx="292.00" cy="517.80" r="1.55" fill="#d0203c"/>
<circle cx="262.60" cy="585.00" r="1.35" fill="#1f4f8f"/>
<circle cx="292.00" cy="537.70" r="1.55" fill="#d0203c"/>
<circle cx="262.60" cy="591.30" r="1.35" fill="#1f4f8f"/>
<circle cx="292.00" cy="540.10" r="1.55" fill="#d0203c"/>
<circle cx="262.60" cy="597.70" r="1.35" fill="#1f4f8f"/>
<circle cx="292.00" cy="542.60" r="1.55" fill="#d0203c"/>
<path d="M262.8,522.0 L262.8,503.5 L291.6,503.5 L291.6,508.8" fill="none" stroke="#231f20" stroke-width="0.9" />
<path d="M262.80,525.40 L260.40,519.80 L262.80,521.20 L265.20,519.80 Z" fill="#231f20"/>
<path d="M291.60,512.20 L289.20,506.60 L291.60,508.00 L294.00,506.60 Z" fill="#231f20"/>
<line x1="277.20" y1="498.24" x2="277.20" y2="500.76" stroke="#2a2a35" stroke-width="0.95"/>
<line x1="276.10" y1="498.87" x2="278.30" y2="500.13" stroke="#2a2a35" stroke-width="0.95"/>
<line x1="276.10" y1="500.13" x2="278.30" y2="498.87" stroke="#2a2a35" stroke-width="0.95"/>
<text transform="translate(216.6,562.5) rotate(-90)" font-size="8.6" fill="#231f20" text-anchor="middle" textLength="60.5" lengthAdjust="spacingAndGlyphs"><tspan font-style="italic">ATAD2</tspan> expression</text>
<text x="260.0" y="628.0" font-size="8.0" fill="#231f20" text-anchor="middle">Newly</text>
<text x="259.9" y="637.5" font-size="8.0" fill="#231f20" text-anchor="middle" textLength="33.4" lengthAdjust="spacingAndGlyphs">diagnosis</text>
<text x="260.0" y="646.6" font-size="8.0" fill="#231f20" text-anchor="middle">(n = 5)</text>
<text x="293.4" y="628.0" font-size="8.0" fill="#231f20" text-anchor="middle" textLength="27.8" lengthAdjust="spacingAndGlyphs">Relapse</text>
<text x="293.4" y="637.5" font-size="8.0" fill="#231f20" text-anchor="middle">(n = 5)</text>
<rect x="0.5" y="0.5" width="519" height="655" fill="none" stroke="#555" stroke-width="1"/>
</svg></div></body></html>
